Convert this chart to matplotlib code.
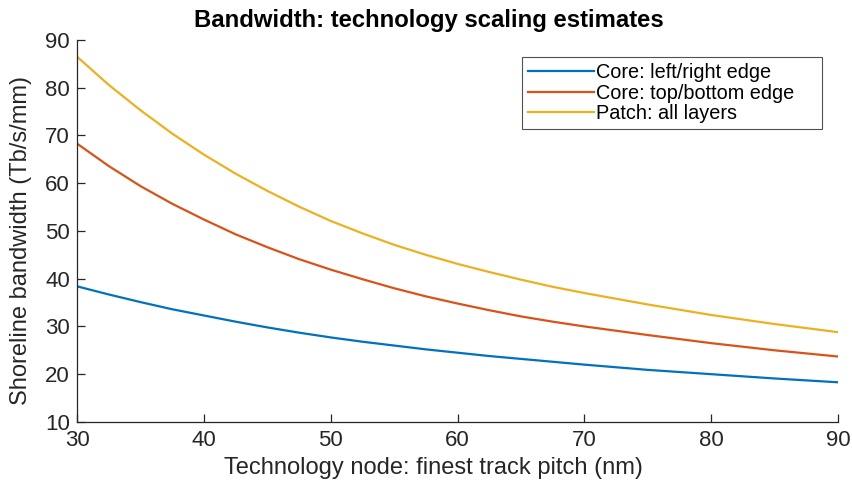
import matplotlib
matplotlib.use("Agg")
import matplotlib.pyplot as plt

# =================================================
# DATA
# =================================================

pitch_nm = [30, 32.5, 35, 37.5, 40, 42.5, 45, 47.5, 50, 52.5, 55, 57.5,
            60, 62.5, 65, 67.5, 70, 75, 80, 85, 90]

core_lr = [38.4, 36.7, 35.1, 33.6, 32.3, 31.0, 29.8, 28.7, 27.7, 26.8, 26.0,
           25.2, 24.5, 23.8, 23.2, 22.6, 22.0, 20.9, 20.0, 19.1, 18.3]
core_tb = [68.3, 63.6, 59.4, 55.7, 52.4, 49.3, 46.6, 44.1, 41.9, 39.9, 38.0,
           36.3, 34.8, 33.4, 32.1, 31.0, 30.0, 28.2, 26.5, 25.0, 23.7]
patch = [86.5, 80.6, 75.3, 70.4, 66.0, 62.0, 58.4, 55.1, 52.1, 49.5, 47.1,
         45.0, 43.1, 41.4, 39.8, 38.3, 37.0, 34.6, 32.4, 30.5, 28.8]

series_labels = ["Core: left/right edge", "Core: top/bottom edge", "Patch: all layers"]
y_ticks = [10, 20, 30, 40, 50, 60, 70, 80, 90]
x_ticks = [30, 40, 50, 60, 70, 80, 90]

# MATLAB default colour order
colors = ["#0072BD", "#D95319", "#EDB120"]

plt.rcParams["font.family"] = ["Liberation Sans", "DejaVu Sans"]

fig = plt.figure(figsize=(8.52, 4.8), dpi=100)
ax = fig.add_axes([0.0904, 0.121, 0.8932, 0.7957])

for values, label, color in zip([core_lr, core_tb, patch], series_labels, colors):
    ax.plot(pitch_nm, values, color=color, linewidth=1.6, label=label)

ax.set_xlim(30, 90)
ax.set_ylim(10, 90)
ax.set_xticks(x_ticks)
ax.set_yticks(y_ticks)

# -------------------------------------------------
# MATLAB look: box off, ticks inside
# -------------------------------------------------
for side in ["top", "right"]:
    ax.spines[side].set_visible(False)
for side in ["left", "bottom"]:
    ax.spines[side].set_color("#262626")
    ax.spines[side].set_linewidth(0.9)

ax.tick_params(direction="in", length=6, width=0.9, colors="#262626",
               labelsize=16)
ax.tick_params(axis="x", pad=6)
ax.tick_params(axis="y", pad=5)

ax.set_xlabel("Technology node: finest track pitch (nm)", fontsize=17,
              color="#262626")
ax.xaxis.set_label_coords(0.469, -0.092)
ax.set_ylabel("Shoreline bandwidth (Tb/s/mm)", fontsize=17,
              color="#262626")
ax.yaxis.set_label_coords(-0.059, 0.474)

# title sits centred on the figure, not the axes
fig.text(0.503, 0.944, "Bandwidth: technology scaling estimates",
         fontsize=17.2, fontweight="bold", ha="center", va="baseline")

# legend box is wider than its text (MATLAB style) -> expand mode
leg = ax.legend(loc="upper left", bbox_to_anchor=(0.585, 0.5, 0.394, 0.4555),
                mode="expand", fontsize=14.3, frameon=True, fancybox=False,
                handlelength=3.3, handletextpad=0.12, labelspacing=0.08,
                borderpad=0.3, borderaxespad=0)
leg.get_frame().set_edgecolor("#262626")
leg.get_frame().set_linewidth(0.8)

fig.savefig("out.png", dpi=100)
